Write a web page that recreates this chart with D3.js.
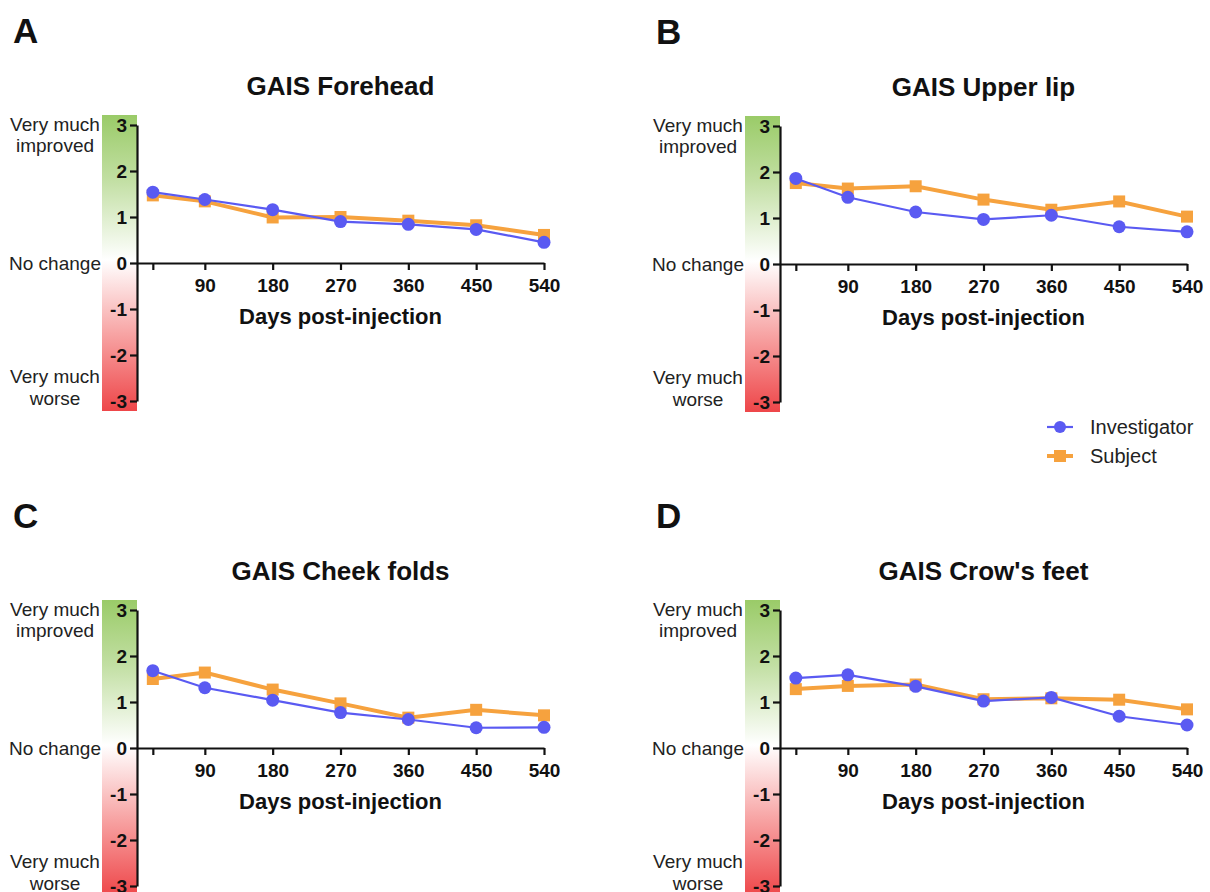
<!DOCTYPE html>
<html>
<head>
<meta charset="utf-8">
<script src="https://unpkg.com/d3@7/dist/d3.min.js"></script>
<style>
  body { margin: 0; background: #fff; }
  svg { display: block; font-family: 'Liberation Sans', Arial, sans-serif; }
  .axis path, .axis line { stroke: #111; stroke-width: 2.2; }
  .axis text { font-size: 19px; font-weight: bold; fill: #111; font-family: 'Liberation Sans', Arial, sans-serif; }
</style>
</head>
<body>
<div id="chart"></div>
<script>
let W = 1210, H = 892

// data
let days = [21, 90, 180, 270, 360, 450, 540]
let xTicks = [21, 90, 180, 270, 360, 450, 540]
let yTicks = [-3, -2, -1, 0, 1, 2, 3]
let letters = ['A', 'B', 'C', 'D']
let titles = ['GAIS Forehead', 'GAIS Upper lip', 'GAIS Cheek folds', "GAIS Crow's feet"]
let seriesNames = ['Investigator', 'Subject']

let investigatorA = [1.54, 1.38, 1.16, 0.90, 0.84, 0.73, 0.45]
let subjectA = [1.47, 1.34, 0.99, 1.00, 0.92, 0.82, 0.61]
let investigatorB = [1.86, 1.45, 1.13, 0.97, 1.06, 0.81, 0.70]
let subjectB = [1.76, 1.64, 1.69, 1.40, 1.18, 1.36, 1.03]
let investigatorC = [1.68, 1.31, 1.04, 0.77, 0.62, 0.44, 0.45]
let subjectC = [1.50, 1.64, 1.27, 0.97, 0.66, 0.83, 0.71]
let investigatorD = [1.52, 1.59, 1.34, 1.02, 1.10, 0.69, 0.50]
let subjectD = [1.28, 1.35, 1.38, 1.06, 1.08, 1.05, 0.84]

let investigator = [investigatorA, investigatorB, investigatorC, investigatorD]
let subject = [subjectA, subjectB, subjectC, subjectD]

let blue = '#5a5af2',
    orange = '#f6a23e'

// layout
let origins = [[137, 263], [780, 264], [137, 748], [780, 748]]
let plotW = 407,
    unit = 46

let svg = d3.select('#chart')
    .append('svg')
    .attr('width', W)
    .attr('height', H)

let defs = svg.append('defs')
let grad = defs.append('linearGradient')
    .attr('id', 'band')
    .attr('x1', 0).attr('y1', 0)
    .attr('x2', 0).attr('y2', 1)
grad.append('stop').attr('offset', 0).attr('stop-color', '#9acb68')
grad.append('stop').attr('offset', 0.22).attr('stop-color', '#c2dfa3')
grad.append('stop').attr('offset', 0.49).attr('stop-color', '#ffffff')
grad.append('stop').attr('offset', 0.75).attr('stop-color', '#f7a0a0')
grad.append('stop').attr('offset', 1).attr('stop-color', '#ee4649')

origins.forEach((o, i) => {
    let [ox, oy] = o
    let x = d3.scaleLinear().domain([0, 540]).range([ox, ox + plotW])
    let y = d3.scaleLinear().domain([-3, 3]).range([oy + 3 * unit, oy - 3 * unit])

    let g = svg.append('g')

    // panel letter
    g.append('text')
        .text(letters[i])
        .attr('x', ox - 124)
        .attr('y', oy - 220)
        .attr('font-size', 35)
        .attr('font-weight', 'bold')
        .attr('fill', '#111')

    // title
    g.append('text')
        .text(titles[i])
        .attr('x', ox + plotW / 2)
        .attr('y', oy - 168)
        .attr('text-anchor', 'middle')
        .attr('font-size', 26)
        .attr('font-weight', 'bold')
        .attr('fill', '#111')

    // colour band behind y axis
    g.append('rect')
        .attr('x', ox - 35)
        .attr('y', y(3) - 10)
        .attr('width', 35)
        .attr('height', y(-3) - y(3) + 20)
        .attr('fill', 'url(#band)')

    // side labels
    let side = g.append('g')
        .attr('font-size', 19)
        .attr('fill', '#222')
        .attr('text-anchor', 'middle')
    side.append('text').text('Very much').attr('x', ox - 82).attr('y', y(3) + 6)
    side.append('text').text('improved').attr('x', ox - 82).attr('y', y(3) + 27)
    side.append('text').text('No change').attr('x', ox - 82).attr('y', y(0) + 7)
    side.append('text').text('Very much').attr('x', ox - 82).attr('y', y(-2.5) + 5)
    side.append('text').text('worse').attr('x', ox - 82).attr('y', y(-2.5) + 27)

    // axes
    g.append('g')
        .attr('class', 'axis')
        .attr('transform', `translate(${ox},0)`)
        .call(d3.axisLeft(y).tickValues(yTicks).tickSize(7).tickSizeOuter(0).tickPadding(3)
            .tickFormat(d => String(d)))

    g.append('g')
        .attr('class', 'axis')
        .attr('transform', `translate(0,${oy})`)
        .call(d3.axisBottom(x).tickValues(xTicks).tickSize(7).tickSizeOuter(0).tickPadding(9)
            .tickFormat(d => d === 21 ? '' : d))

    g.append('text')
        .text('Days post-injection')
        .attr('x', ox + plotW / 2)
        .attr('y', oy + 61)
        .attr('text-anchor', 'middle')
        .attr('font-size', 22)
        .attr('font-weight', 'bold')
        .attr('fill', '#111')

    let line = d3.line()
        .x((d, j) => x(days[j]))
        .y(d => y(d))

    // subject (orange squares)
    g.append('path')
        .attr('d', line(subject[i]))
        .attr('fill', 'none')
        .attr('stroke', orange)
        .attr('stroke-width', 4)
    g.selectAll('rect.sq')
        .data(subject[i])
        .enter()
        .append('rect')
        .attr('class', 'sq')
        .attr('x', (d, j) => x(days[j]) - 6)
        .attr('y', d => y(d) - 6)
        .attr('width', 12)
        .attr('height', 12)
        .attr('fill', orange)

    // investigator (blue circles)
    g.append('path')
        .attr('d', line(investigator[i]))
        .attr('fill', 'none')
        .attr('stroke', blue)
        .attr('stroke-width', 2.2)
    g.selectAll('circle')
        .data(investigator[i])
        .enter()
        .append('circle')
        .attr('cx', (d, j) => x(days[j]))
        .attr('cy', d => y(d))
        .attr('r', 6.5)
        .attr('fill', blue)
})

// legend
let legend = svg.append('g')
    .attr('transform', 'translate(1047,427)')
let colors = [blue, orange]
seriesNames.forEach((name, i) => {
    let lg = legend.append('g').attr('transform', `translate(0,${i * 29})`)
    lg.append('line')
        .attr('x1', 0).attr('x2', 26)
        .attr('stroke', colors[i])
        .attr('stroke-width', i === 0 ? 2.2 : 4)
    if (i === 0) {
        lg.append('circle').attr('cx', 13).attr('r', 6).attr('fill', blue)
    } else {
        lg.append('rect').attr('x', 7).attr('y', -6).attr('width', 12).attr('height', 12).attr('fill', orange)
    }
    lg.append('text')
        .text(name)
        .attr('x', 43)
        .attr('y', 7)
        .attr('font-size', 20)
        .attr('fill', '#222')
})
</script>
</body>
</html>
